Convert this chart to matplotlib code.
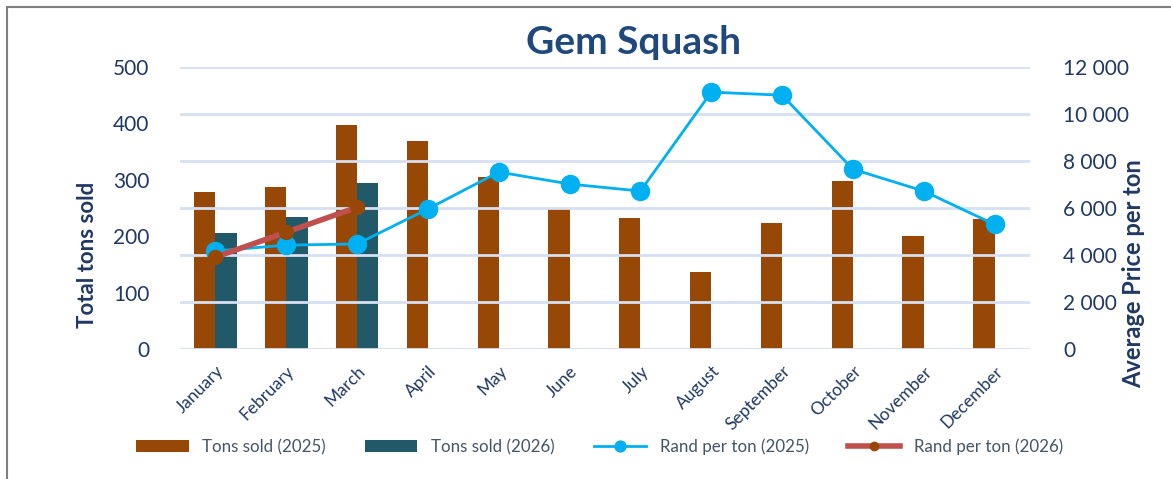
import numpy as np
import matplotlib.pyplot as plt
from matplotlib.patches import Rectangle

plt.rcParams['font.family'] = ['Lato', 'DejaVu Sans']

months = ['January', 'February', 'March', 'April', 'May', 'June', 'July',
          'August', 'September', 'October', 'November', 'December']
tons_2025 = [278, 287, 397, 369, 305, 250, 232, 136, 223, 298, 200, 230]
tons_2026 = [206, 234, 294]
rand_2025 = [4170, 4420, 4470, 5960, 7530, 7020, 6720, 10930, 10800, 7650, 6720, 5300]
rand_2026 = [3910, 4970, 6030]

brown = '#974706'
teal = '#215968'
blue = '#00B0F0'
red = '#C0504D'
txt = '#1F3864'

fig = plt.figure(figsize=(11.71, 4.79), dpi=100)
fig.patches.append(Rectangle((7 / 1171, -0.1), 1.2, 1 - 7 / 479 + 0.1,
                             transform=fig.transFigure, fill=False,
                             edgecolor='#808080', linewidth=1.5))

ax = fig.add_axes([180 / 1171, 1 - 349 / 479, 850 / 1171, 282 / 479])
ax2 = ax.twinx()
ax.set_zorder(ax2.get_zorder() - 1)
ax2.patch.set_visible(False)

x = np.arange(len(months))
w = 0.3
b1 = ax.bar(x - w / 2, tons_2025, w, color=brown, label='Tons sold (2025)')
b2 = ax.bar(x[:len(tons_2026)] + w / 2, tons_2026, w, color=teal, label='Tons sold (2026)')

l1, = ax2.plot(x, rand_2025, color=blue, lw=2, marker='o', ms=13, zorder=3,
               label='Rand per ton (2025)')
l2, = ax2.plot(x[:len(rand_2026)], rand_2026, color=red, lw=4, marker='o', ms=10,
               mfc=brown, mec=brown, zorder=4, label='Rand per ton (2026)')

ax.set_xlim(-0.5, 11.5)
ax.set_ylim(0, 500)
ax.set_yticks(range(0, 501, 100))
ax2.set_ylim(0, 12000)
ax2.set_yticks(range(0, 12001, 2000))
ax2.set_yticklabels(['0' if v == 0 else f'{v:,}'.replace(',', ' ') for v in range(0, 12001, 2000)])
ax2.grid(axis='y', color='#D6E0F2', lw=2)
ax2.set_axisbelow(True)

for a in (ax, ax2):
    for s in a.spines.values():
        s.set_visible(False)
    a.tick_params(length=0, labelsize=15, labelcolor=txt)
ax.tick_params(axis='y', pad=22)
ax2.tick_params(axis='y', pad=24)

ax.set_xticks(x)
ax.set_xticklabels(months, rotation=45, ha='right', rotation_mode='anchor',
                   fontsize=12.5, color=txt)
ax.tick_params(axis='x', pad=10)

# axis titles sit a bit below the axis centre in the original
fig.text(88 / 1171, 1 - 255 / 479, 'Total tons sold', rotation=90, ha='center', va='center',
         fontsize=16, fontweight='bold', color=txt)
fig.text(1134 / 1171, 1 - 274 / 479, 'Average Price per ton', rotation=90, ha='center',
         va='center', fontsize=17, fontweight='bold', color=txt)

fig.text(0.541, 1 - 42 / 479, 'Gem Squash', ha='center', va='center',
         fontsize=28, fontweight='bold', color='#1F497D')

fig.legend(handles=[b1, b2, l1, l2], loc='center', bbox_to_anchor=(0.512, 1 - 447 / 479),
           ncol=4, frameon=False, fontsize=12.2, labelcolor='#44546A',
           handlelength=3.1, handletextpad=0.8, columnspacing=2.3, markerscale=0.6)

fig.savefig('out.png', dpi=100)
